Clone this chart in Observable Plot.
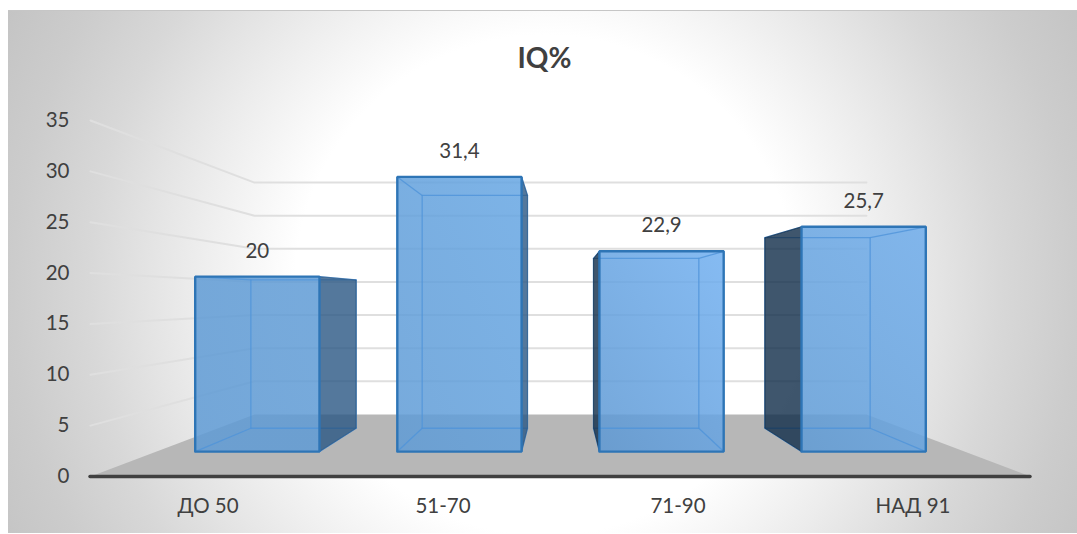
<!DOCTYPE html>
<html>
<head>
<meta charset="utf-8">
<script src="https://cdn.jsdelivr.net/npm/d3@7"></script>
<script src="https://cdn.jsdelivr.net/npm/@observablehq/plot@0.6"></script>
<style>
  html, body { margin: 0; padding: 0; background: #fff; }
  #stage { position: relative; width: 1077px; height: 534px; overflow: hidden; }
  #panel {
    position: absolute; left: 8px; top: 10px; width: 1069px; height: 523px;
    box-sizing: border-box; border-top: 1px solid #c6c6c6;
    background: radial-gradient(circle 603px at 537px 274px, #ffffff 250px, #ececec 353px, #e4e4e4 395px, #d8d8d8 455px, #cccccc 532px, #c4c4c4 603px);
  }
  #stage svg { position: absolute; left: 0; top: 0; }
</style>
</head>
<body>
<div id="stage"><div id="panel"></div></div>
<script>
const title = "IQ%";
const categories = ["ДО 50", "51-70", "71-90", "НАД 91"];
const values = [20, 31.4, 22.9, 25.7];
const valueTicks = [0, 5, 10, 15, 20, 25, 30, 35];
// Lit colours across each front face, top-right to bottom-left.
const faceStart = ["#5f9bd5", "#66a6e3", "#70aff0", "#6fadec"];
const faceEnd = ["#5f9bd5", "#5f9bd5", "#5d98d3", "#5f9bd5"];

// Perspective of the 3D column scene, in chart units.
const eyeX = 2;
const eyeValue = 17.5;
const wallDepth = 0.651;
const barFrontDepth = 0.86;
const barBackDepth = 0.729;
const barWidth = 0.615;

const project = (x, value, depth) => ({
  x: eyeX + (x - eyeX) * depth,
  y: value * depth + eyeValue * (1 - depth)
});

const polygon = (pts) => [...pts, pts[0]];

const floor = polygon([
  project(0, 0, 1), project(4, 0, 1), project(4, 0, wallDepth), project(0, 0, wallDepth)
]);

// Wall gridlines: a run along the left wall, then across the back wall.
const gridMarks = valueTicks.filter((v) => v > 0).map((v) =>
  Plot.line(
    [project(0, v, 1), project(0, v, wallDepth), project(4, v, wallDepth)],
    {x: "x", y: "y", stroke: "#dfdfdf", strokeWidth: 2}
  )
);

function barMarks(value, i) {
  const x0 = i + 0.5 - barWidth / 2;
  const x1 = i + 0.5 + barWidth / 2;
  const sideX = i < 2 ? x1 : x0;
  const sideFill = i < 2 ? "#295683" : "#0f2c48";
  const side = polygon([
    project(sideX, 0, barFrontDepth), project(sideX, value, barFrontDepth),
    project(sideX, value, barBackDepth), project(sideX, 0, barBackDepth)
  ]);
  const front = polygon([
    project(x0, 0, barFrontDepth), project(x1, 0, barFrontDepth),
    project(x1, value, barFrontDepth), project(x0, value, barFrontDepth)
  ]);
  const back = polygon([
    project(x0, 0, barBackDepth), project(x1, 0, barBackDepth),
    project(x1, value, barBackDepth), project(x0, value, barBackDepth)
  ]);
  const inner = {x: "x", y: "y", stroke: "#4f94da", strokeWidth: 1.3, strokeOpacity: 0.8};
  const diagonals = [
    [project(x0, 0, barBackDepth), project(x0, 0, barFrontDepth)],
    [project(x1, 0, barBackDepth), project(x1, 0, barFrontDepth)],
    [project(x0, value, barBackDepth), project(x0, value, barFrontDepth)],
    [project(x1, value, barBackDepth), project(x1, value, barFrontDepth)]
  ];
  return [
    Plot.line(front, {x: "x", y: "y", fill: `url(#face-${i})`, fillOpacity: 0.85, stroke: "none"}),
    Plot.line(back, inner),
    ...diagonals.map((d) => Plot.line(d, inner)),
    Plot.line(side, {x: "x", y: "y", fill: sideFill, fillOpacity: 0.8, stroke: sideFill, strokeOpacity: 0.6, strokeWidth: 1}),
    Plot.line(front, {x: "x", y: "y", stroke: "#2e75b6", strokeWidth: 2.4, strokeLinejoin: "miter"})
  ];
}

// Gradients for the front faces, one per column.
const faceGradients = () => {
  const defs = d3.create("svg:defs");
  values.forEach((_, i) => {
    const g = defs.append("linearGradient")
      .attr("id", `face-${i}`)
      .attr("x1", 1).attr("y1", 0).attr("x2", 0).attr("y2", 1);
    g.append("stop").attr("offset", "0%").attr("stop-color", faceStart[i]);
    g.append("stop").attr("offset", "100%").attr("stop-color", faceEnd[i]);
  });
  return defs.node();
};

const labels = values.map((v, i) => ({
  ...project(i + 0.5, v, barFrontDepth),
  text: String(v).replace(".", ",")
}));

const chart = Plot.plot({
  width: 1077,
  height: 534,
  marginLeft: 90,
  marginRight: 47,
  marginTop: 120,
  marginBottom: 58,
  style: {background: "transparent", fontFamily: "Lato, sans-serif", color: "#404040"},
  x: {domain: [0, 4]},
  y: {domain: [0, 35]},
  marks: [
    faceGradients,
    ...gridMarks,
    Plot.line(floor, {x: "x", y: "y", fill: "#b7b7b7", stroke: "none"}),
    ...values.flatMap(barMarks),
    Plot.ruleY([0], {stroke: "#404040", strokeWidth: 3.5, strokeLinecap: "round"}),
    Plot.axisY({ticks: valueTicks, tickSize: 0, tickPadding: 21, label: null, fontSize: 20.5, fill: "#404040"}),
    Plot.axisX({
      ticks: categories.map((_, i) => i + 0.5),
      tickFormat: (d) => categories[d - 0.5],
      tickSize: 0, tickPadding: 22, label: null, fontSize: 20.5, fill: "#404040"
    }),
    Plot.text(labels, {x: "x", y: "y", text: "text", dy: -25.5, fontSize: 20.5, fill: "#404040"}),
    Plot.text([title], {frameAnchor: "top", dx: -16, dy: -72, fontSize: 28, fontWeight: 700, fill: "#404040"})
  ]
});
document.getElementById("stage").appendChild(chart);
</script>
</body>
</html>
